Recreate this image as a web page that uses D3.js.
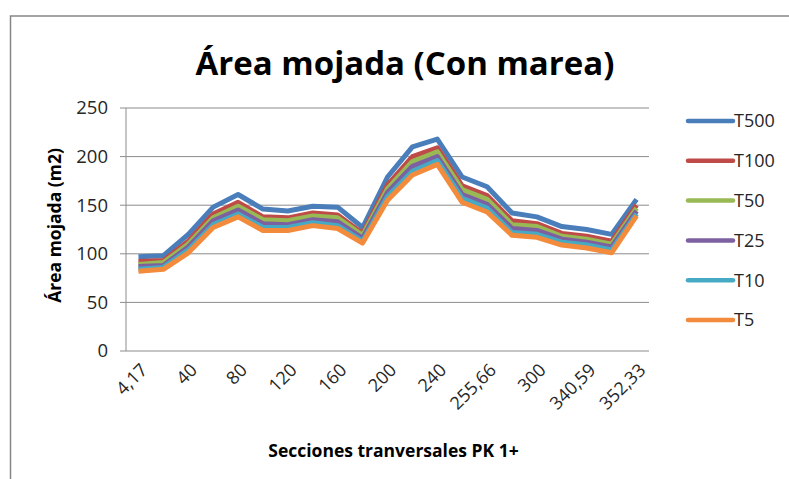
<!DOCTYPE html>
<html>
<head>
<meta charset="utf-8">
<script src="https://cdn.jsdelivr.net/npm/d3@7"></script>
<style>
  body { margin: 0; background: #fff; }
  svg text { font-family: "Open Sans", "DejaVu Sans", sans-serif; fill: #262626; }
</style>
</head>
<body>
<div id="chart"></div>
<script>
// secciones (solo se muestra una de cada dos etiquetas)
const sections = ["4,17", "20", "40", "60", "80", "100", "120", "140", "160", "180", "200",
  "220", "240", "250", "255,66", "280", "300", "320", "340,59", "350", "352,33"];
const seriesNames = ["T500", "T100", "T50", "T25", "T10", "T5"];
const colors = ["#4a7ebb", "#be4b48", "#98b954", "#7d60a0", "#46aac5", "#f38b3c"];

const t500 = [97, 98, 120, 148, 161, 146, 144, 149, 148, 127, 179, 210, 218, 179, 169, 142, 138, 128, 125, 120, 156];
const t100 = [92, 93, 113, 141, 153, 138, 137, 142, 140, 121, 171, 200, 209, 170, 160, 134, 131, 121, 118, 113, 150];
const t50 = [89, 91, 110, 137, 149, 135, 134, 139, 137, 119, 167, 195, 205, 166, 156, 130, 128, 118, 115, 110, 147];
const t25 = [87, 88, 107, 134, 145, 131, 130, 135, 133, 116, 163, 190, 200, 161, 151, 126, 124, 115, 112, 107, 144];
const t10 = [84, 86, 104, 130, 141, 127, 127, 132, 129, 113, 159, 185, 196, 157, 147, 122, 120, 112, 109, 104, 141];
const t5 = [82, 84, 101, 127, 138, 124, 124, 129, 126, 111, 155, 181, 192, 153, 143, 119, 117, 109, 106, 101, 139];
const yTicks = [0, 50, 100, 150, 200, 250];

const allSeries = [t500, t100, t50, t25, t10, t5];

const W = 789, H = 479;
const margin = { top: 108, right: 140, bottom: 128, left: 126 };
const width = W - margin.left - margin.right;
const height = H - margin.top - margin.bottom;

const root = d3.select("#chart")
  .append("svg")
  .attr("width", W)
  .attr("height", H);

// marco del grafico
root.append("rect")
  .attr("x", 10.5)
  .attr("y", 16)
  .attr("width", 900)
  .attr("height", 600)
  .attr("fill", "none")
  .attr("stroke", "#868686")
  .attr("stroke-width", 1.5);

root.append("text")
  .attr("x", 405)
  .attr("y", 75)
  .attr("text-anchor", "middle")
  .attr("font-size", 33)
  .attr("font-weight", "bold")
  .style("fill", "#000")
  .text("Área mojada (Con marea)");

const svg = root.append("g")
  .attr("transform", `translate(${margin.left},${margin.top})`);

const x = d3.scaleBand()
  .domain(sections)
  .range([0, width]);

const y = d3.scaleLinear()
  .domain([0, 250])
  .range([height, 0]);

// rejilla horizontal
svg.append("g")
  .selectAll("line")
  .data(yTicks)
  .enter()
  .append("line")
  .attr("x1", -6)
  .attr("x2", width)
  .attr("y1", d => y(d))
  .attr("y2", d => y(d))
  .attr("stroke", "#8c8c8c")
  .attr("stroke-width", 1);

svg.append("line")
  .attr("x1", 0).attr("x2", 0)
  .attr("y1", 0).attr("y2", height)
  .attr("stroke", "#8c8c8c");

const yAxis = svg.append("g")
  .call(d3.axisLeft(y).tickValues(yTicks).tickSize(0).tickPadding(18));
yAxis.select(".domain").remove();
yAxis.selectAll("text").attr("font-size", 18.5);

const xAxis = svg.append("g")
  .attr("transform", `translate(0,${height})`)
  .call(d3.axisBottom(x).tickValues(sections.filter((d, i) => i % 2 === 0)).tickSize(0));
xAxis.select(".domain").remove();
xAxis.selectAll("text")
  .attr("font-size", 18)
  .attr("text-anchor", "end")
  .attr("dy", 0)
  .attr("transform", "translate(8,18) rotate(-45)");

svg.append("text")
  .attr("x", width / 2 + 6)
  .attr("y", height + 106)
  .attr("text-anchor", "middle")
  .attr("font-size", 17.5)
  .attr("font-weight", "bold")
  .style("fill", "#000")
  .text("Secciones tranversales PK 1+");

svg.append("text")
  .attr("transform", "rotate(-90)")
  .attr("x", -height / 2 + 4)
  .attr("y", -65)
  .attr("text-anchor", "middle")
  .attr("font-size", 17.5)
  .attr("font-weight", "bold")
  .style("fill", "#000")
  .text("Área mojada (m2)");

const line = d3.line()
  .x((d, i) => x(sections[i]) + x.bandwidth() / 2)
  .y(d => y(d));

allSeries.forEach((s, k) => {
  svg.append("path")
    .datum(s)
    .attr("d", line)
    .attr("fill", "none")
    .attr("stroke", colors[k])
    .attr("stroke-width", 5)
    .attr("stroke-linejoin", "round");
});

// leyenda
const legend = root.append("g")
  .selectAll("g")
  .data(seriesNames)
  .enter()
  .append("g")
  .attr("transform", (d, i) => `translate(688,${121 + i * 39.8})`);

legend.append("line")
  .attr("x1", 0).attr("x2", 45)
  .attr("stroke", (d, i) => colors[i])
  .attr("stroke-width", 4.5)
  .attr("stroke-linecap", "round");

legend.append("text")
  .attr("x", 46)
  .attr("dy", "0.35em")
  .attr("font-size", 18)
  .text(d => d);
</script>
</body>
</html>
